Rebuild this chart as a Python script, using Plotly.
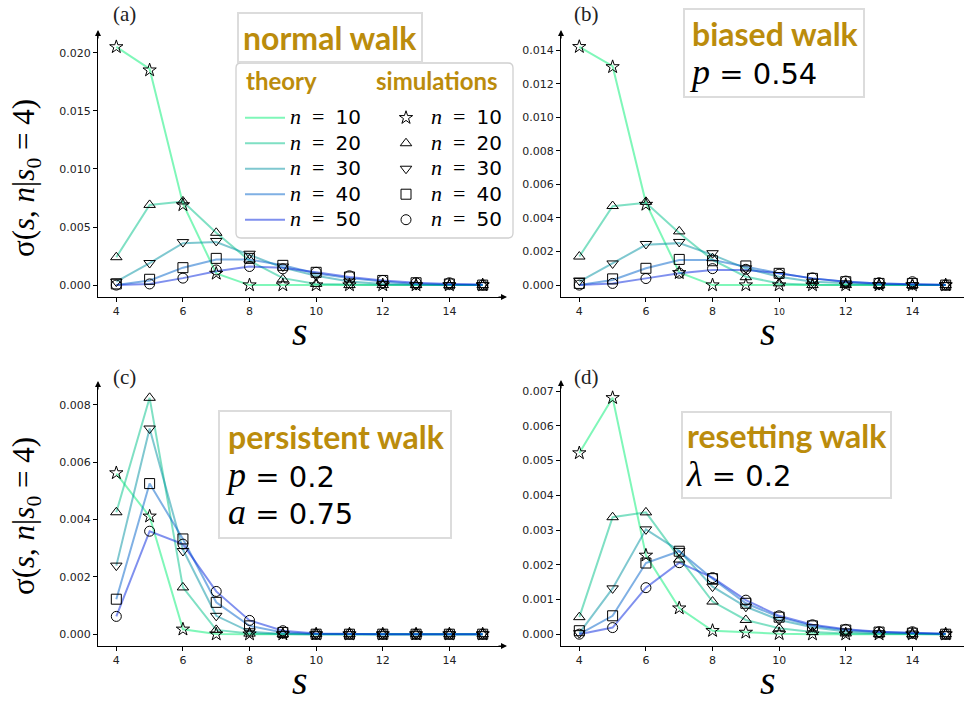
import plotly.graph_objects as go

# Cluster sizes s and walk lengths n
S = list(range(4, 16))
N_VALUES = [10, 20, 30, 40, 50]
X_TICKS = [4, 6, 8, 10, 12, 14]

# (a) normal walk: theory curves and simulation points, one row per n
A_THEORY = [
    [0.0205, 0.0186, 0.0070, 0.0010, 0.0000, 0.0, 0.0, 0.0, 0.0, 0.0, 0.0, 0.0],
    [0.0024, 0.0069, 0.0072, 0.0045, 0.0021, 0.0006, 0.0001, 0.00002, 0.0, 0.0, 0.0, 0.0],
    [0.0003, 0.0019, 0.0036, 0.0037, 0.0026, 0.0015, 0.0008, 0.0003, 0.0001, 0.00004, 0.00001, 0.0],
    [0.0000, 0.0004, 0.0015, 0.0022, 0.0022, 0.0017, 0.0010, 0.0006, 0.0003, 0.0001, 0.00005, 0.0],
    [0.0000, 0.0001, 0.0006, 0.0012, 0.0016, 0.0015, 0.0011, 0.0007, 0.0004, 0.0002, 0.0001, 0.00005],
]
A_SIM = [
    [0.0205, 0.0185, 0.0069, 0.0010, 0.0, 0.0, 0.0, 0.0, 0.0, 0.0, 0.0, 0.0],
    [0.0024, 0.0069, 0.0072, 0.0045, 0.0022, 0.0005, 0.0001, 0.0, 0.0, 0.0, 0.0, 0.0],
    [0.0003, 0.0019, 0.0037, 0.0038, 0.0027, 0.0016, 0.0008, 0.0003, 0.0001, 0.0, 0.0, 0.0],
    [0.0001, 0.0005, 0.0015, 0.0023, 0.0023, 0.0017, 0.0011, 0.0007, 0.0004, 0.0002, 0.0001, 0.0],
    [0.0000, 0.0001, 0.0006, 0.0013, 0.0016, 0.0014, 0.0011, 0.0008, 0.0004, 0.0002, 0.0002, 0.0],
]

# (b) biased walk, p = 0.54
B_THEORY = [
    [0.01419, 0.01304, 0.0049, 0.00075, 0.0, 0.0, 0.0, 0.0, 0.0, 0.0, 0.0, 0.0],
    [0.0017, 0.0047, 0.0049, 0.0031, 0.0015, 0.0005, 0.0001, 0.00002, 0.0, 0.0, 0.0, 0.0],
    [0.0002, 0.0013, 0.0024, 0.0025, 0.0018, 0.0010, 0.0005, 0.0002, 0.0001, 0.00003, 0.00001, 0.0],
    [0.0000, 0.0003, 0.0010, 0.0015, 0.0015, 0.0011, 0.0007, 0.0004, 0.0002, 0.0001, 0.00004, 0.00001],
    [0.0000, 0.0001, 0.0004, 0.0007, 0.0009, 0.0009, 0.0007, 0.0004, 0.0002, 0.0001, 0.00005, 0.00002],
]
B_SIM = [
    [0.0142, 0.0130, 0.0048, 0.00073, 0.0, 0.0, 0.0, 0.0, 0.0, 0.0, 0.0, 0.0],
    [0.0017, 0.00471, 0.00496, 0.0032, 0.0016, 0.00047, 0.0001, 0.0, 0.0, 0.0, 0.0, 0.0],
    [0.00027, 0.00129, 0.00245, 0.00257, 0.0019, 0.0010, 0.0006, 0.0002, 0.0001, 0.0, 0.0, 0.0],
    [0.0001, 0.00037, 0.0010, 0.00153, 0.00145, 0.00114, 0.0007, 0.0004, 0.0002, 0.0001, 0.0001, 0.0],
    [0.0000, 0.0001, 0.00039, 0.00071, 0.00098, 0.00094, 0.00065, 0.00043, 0.00024, 0.00014, 0.0002, 0.0],
]

# (c) persistent walk, p = 0.2, a = 0.75
C_THEORY = [
    [0.0056, 0.0041, 0.00017, 0.00001, 0.0, 0.0, 0.0, 0.0, 0.0, 0.0, 0.0, 0.0],
    [0.00425, 0.00824, 0.00163, 0.00015, 0.00002, 0.0, 0.0, 0.0, 0.0, 0.0, 0.0, 0.0],
    [0.00239, 0.00717, 0.00295, 0.00064, 0.00009, 0.00001, 0.0, 0.0, 0.0, 0.0, 0.0, 0.0],
    [0.00122, 0.00525, 0.00332, 0.00111, 0.00029, 0.00006, 0.00001, 0.0, 0.0, 0.0, 0.0, 0.0],
    [0.00062, 0.00359, 0.00314, 0.00149, 0.00048, 0.00012, 0.00002, 0.0, 0.0, 0.0, 0.0, 0.0],
]
C_SIM = [
    [0.00562, 0.00411, 0.00017, 0.0, 0.0, 0.0, 0.0, 0.0, 0.0, 0.0, 0.0, 0.0],
    [0.00425, 0.00824, 0.00163, 0.00015, 0.00002, 0.0, 0.0, 0.0, 0.0, 0.0, 0.0, 0.0],
    [0.00239, 0.00717, 0.00290, 0.00064, 0.00010, 0.00001, 0.0, 0.0, 0.0, 0.0, 0.0, 0.0],
    [0.00122, 0.00525, 0.00332, 0.00111, 0.00029, 0.00006, 0.0, 0.0, 0.0, 0.0, 0.0, 0.0],
    [0.00062, 0.00359, 0.00314, 0.00149, 0.00048, 0.00012, 0.0, 0.0, 0.0, 0.0, 0.0, 0.0],
]

# (d) resetting walk, lambda = 0.2
D_THEORY = [
    [0.00522, 0.00681, 0.00227, 0.00075, 0.0001, 0.00005, 0.00001, 0.0, 0.0, 0.0, 0.0, 0.0],
    [0.00049, 0.00337, 0.00351, 0.0022, 0.00094, 0.00041, 0.00017, 0.00006, 0.00002, 0.00001, 0.0, 0.0],
    [0.00003, 0.00132, 0.00302, 0.0024, 0.00137, 0.00079, 0.00041, 0.0002, 0.00008, 0.00003, 0.00002, 0.0],
    [0.0000, 0.00053, 0.00205, 0.00239, 0.0016, 0.00089, 0.00049, 0.00024, 0.00012, 0.00006, 0.00003, 0.00001],
    [0.0000, 0.00019, 0.00134, 0.00206, 0.00163, 0.00098, 0.00053, 0.00027, 0.00014, 0.00007, 0.00004, 0.00001],
]
D_SIM = [
    [0.00522, 0.00681, 0.00227, 0.00075, 0.0001, 0.00005, 0.00001, 0.0, 0.0, 0.0, 0.0, 0.0],
    [0.00049, 0.00337, 0.00351, 0.00215, 0.00094, 0.00041, 0.00017, 0.00006, 0.00002, 0.0, 0.0, 0.0],
    [0.00003, 0.00132, 0.00302, 0.0024, 0.00137, 0.00079, 0.00041, 0.0002, 0.00008, 0.00003, 0.00002, 0.0],
    [0.0001, 0.00053, 0.00205, 0.00239, 0.0016, 0.00089, 0.00049, 0.00024, 0.00012, 0.00006, 0.00003, 0.0],
    [0.0000, 0.00019, 0.00134, 0.00206, 0.00163, 0.00098, 0.00053, 0.00027, 0.00014, 0.00007, 0.00007, 0.0],
]

LINE_COLORS = [
    "rgba(0,240,115,0.5)",
    "rgba(0,193,137,0.5)",
    "rgba(0,145,161,0.5)",
    "rgba(0,97,201,0.5)",
    "rgba(0,33,221,0.5)",
]
SYMBOLS = ["star-open", "triangle-up-open", "triangle-down-open", "square-open", "circle-open"]
GOLD = "#bb8c0c"
SERIF = "'Liberation Serif', 'DejaVu Serif', serif"
W, H = 965, 702

PANELS = [
    ("x", "y", A_THEORY, A_SIM, 0.005),
    ("x2", "y2", B_THEORY, B_SIM, 0.002),
    ("x3", "y3", C_THEORY, C_SIM, 0.002),
    ("x4", "y4", D_THEORY, D_SIM, 0.001),
]

def label(n):
    return ('<span style="font-size:20px"><span style="font-family:%s;font-size:22px"><i>n</i>'
            '\u2002=\u2002</span>%d</span>' % (SERIF, n))

fig = go.Figure()
for k, (xa, ya, theory, sim, _) in enumerate(PANELS):
    for i, n in enumerate(N_VALUES):
        fig.add_trace(go.Scatter(
            x=S, y=theory[i], xaxis=xa, yaxis=ya, mode="lines",
            line=dict(color=LINE_COLORS[i], width=2),
            name=label(n), legend="legend", showlegend=(k == 0),
        ))
    for i, n in enumerate(N_VALUES):
        fig.add_trace(go.Scatter(
            x=S, y=sim[i], xaxis=xa, yaxis=ya, mode="markers",
            marker=dict(symbol=SYMBOLS[i], size=10, color="black", line=dict(width=1)),
            name=label(n), legend="legend2", showlegend=(k == 0),
        ))

def px_x(p):
    return p / W

def px_y(p):
    return 1 - p / H

left_dom = [px_x(98), px_x(501)]
right_dom = [px_x(561), px_x(964)]
top_dom = [px_y(297), px_y(35)]
bot_dom = [px_y(646), px_y(386)]

def y_range(data):
    top = max(max(r) for r in data)
    return [-0.05 * top, 1.05 * top]

tick_font = dict(family="DejaVu Sans", size=11, color="#222222")

def xaxis(dom, anchor, ticktext=None):
    return dict(domain=dom, anchor=anchor, range=[3.45, 15.55], showgrid=False, zeroline=False,
                showline=True, linecolor="black", linewidth=1.2, ticks="outside", ticklen=4,
                tickcolor="black", tickfont=tick_font, tickvals=X_TICKS,
                ticktext=ticktext if ticktext else [str(v) for v in X_TICKS])

def yaxis(dom, anchor, data, step):
    return dict(domain=dom, anchor=anchor, range=y_range(data), showgrid=False, zeroline=False,
                showline=True, linecolor="black", linewidth=1.2, ticks="outside", ticklen=4,
                tickcolor="black", tickfont=tick_font, tickformat=".3f", tick0=0, dtick=step)

b_ticktext = ["4", "6", "8", '<span style="font-size:9px">10</span>', "12", "14"]

legend_common = dict(xanchor="left", yanchor="top", bgcolor="rgba(0,0,0,0)", borderwidth=0,
                     tracegroupgap=0, itemwidth=40,
                     font=dict(family="DejaVu Sans", size=17.3, color="black"))

fig.update_layout(
    template="none",
    width=W, height=H, margin=dict(l=0, r=0, t=0, b=0),
    paper_bgcolor="white", plot_bgcolor="white",
    xaxis=xaxis(left_dom, "y"), yaxis=yaxis(top_dom, "x", A_THEORY, PANELS[0][4]),
    xaxis2=xaxis(right_dom, "y2", b_ticktext), yaxis2=yaxis(top_dom, "x2", B_THEORY, PANELS[1][4]),
    xaxis3=xaxis(left_dom, "y3"), yaxis3=yaxis(bot_dom, "x3", C_THEORY, PANELS[2][4]),
    xaxis4=xaxis(right_dom, "y4"), yaxis4=yaxis(bot_dom, "x4", D_THEORY, PANELS[3][4]),
    legend=dict(x=px_x(240), y=px_y(100), **legend_common),
    legend2=dict(x=px_x(381), y=px_y(100), **legend_common),
)

# Legend frame (rounded corners) and column headers
x0, x1, y0, y1, r = px_x(236), px_x(513), px_y(238), px_y(63), 5
rx, ry = r / W, r / H
frame = ("M {a},{b} L {c},{b} Q {x1},{b2} {x1},{d} L {x1},{e} Q {x1},{y0} {c},{y0} "
         "L {a},{y0} Q {x0},{y0} {x0},{e} L {x0},{d} Q {x0},{b2} {a},{b} Z").format(
    a=x0 + rx, b=y1, c=x1 - rx, b2=y1, d=y1 - ry, e=y0 + ry, x0=x0, x1=x1, y0=y0)
fig.add_shape(type="path", path=frame, xref="paper", yref="paper",
              line=dict(color="#d0d0d0", width=1.3), fillcolor="rgba(255,255,255,0.85)", layer="above")
for txt, x in [("theory", 244), ("simulations", 374)]:
    fig.add_annotation(x=px_x(x), y=px_y(80), xref="paper", yref="paper", text="<b>%s</b>" % txt,
                       showarrow=False, xanchor="left", yanchor="middle",
                       font=dict(family="Lato", size=24, color=GOLD))

# Axis titles: sigma on the left column, s under every panel
for y in [178, 516]:
    fig.add_annotation(x=px_x(26), y=px_y(y), xref="paper", yref="paper",
                       text="σ(<i>s</i>, <i>n</i>|<i>s</i><sub>0</sub> = 4)", textangle=-90,
                       showarrow=False, xanchor="center", yanchor="middle",
                       font=dict(family=SERIF, size=31, color="black"))
for x, y in [(300, 331), (768, 331), (300, 680), (768, 680)]:
    fig.add_annotation(x=px_x(x), y=px_y(y), xref="paper", yref="paper", text="<i>s</i>",
                       showarrow=False, xanchor="center", yanchor="middle",
                       font=dict(family=SERIF, size=40, color="black"))

# Axis arrowheads
arrows = [
    (98, 30, 0, 10), (561, 30, 0, 10), (98, 381, 0, 10), (561, 380, 0, 10),
    (507, 297, -10, 0), (507, 646, -10, 0),
]
for x, y, ax, ay in arrows:
    fig.add_annotation(x=px_x(x), y=px_y(y), xref="paper", yref="paper", text="",
                       showarrow=True, ax=ax, ay=ay, arrowhead=2, arrowsize=1,
                       arrowwidth=1.2, arrowcolor="black", standoff=0)

# Panel letters
for txt, x, y in [("(a)", 111, 14), ("(b)", 572, 14), ("(c)", 111, 377), ("(d)", 572, 377)]:
    fig.add_annotation(x=px_x(x), y=px_y(y), xref="paper", yref="paper", text=txt,
                       showarrow=False, xanchor="left", yanchor="middle",
                       font=dict(family=SERIF, size=21, color="#222222"))

def gold(t):
    return '<span style="font-family:Lato;font-weight:bold;font-size:32px;color:%s">%s</span>' % (GOLD, t)

def sym(t):
    return '<span style="font-family:%s;font-style:italic;font-size:36px">%s</span>' % (SERIF, t)

boxes = [
    (gold("normal walk"), 237, 12, 4),
    (gold("biased walk") + "<br>" + sym("p") + " = 0.54", 683, 8, 4),
    (gold("persistent walk") + "<br>" + sym("p") + " = 0.2<br>" + sym("a") + " = 0.75", 218, 410, 5),
    (gold("resetting walk") + "<br>" + sym("λ") + " = 0.2", 681, 411, 3),
]
for txt, x, y, pad in boxes:
    fig.add_annotation(x=px_x(x), y=px_y(y), xref="paper", yref="paper", text=txt,
                       showarrow=False, xanchor="left", yanchor="top", align="left",
                       font=dict(family="DejaVu Sans", size=29, color="black"),
                       bgcolor="white", bordercolor="#dcdcdc", borderwidth=2, borderpad=pad)

fig.write_html("out.html")
